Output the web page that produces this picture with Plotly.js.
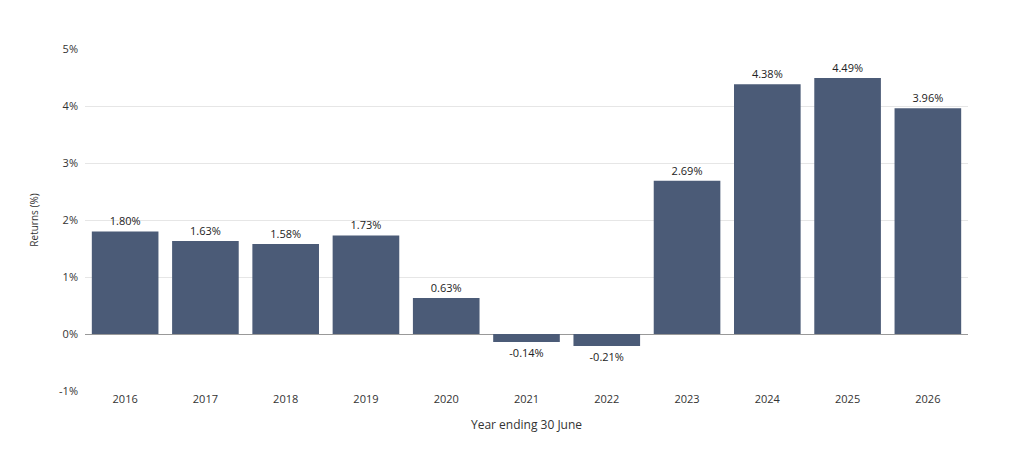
<!DOCTYPE html>
<html>
<head>
<meta charset="utf-8">
<script src="https://cdn.plot.ly/plotly-3.0.1.min.js"></script>
<style>body{margin:0;background:#fff}</style>
</head>
<body>
<div id="grafico" style="width:1013px;height:450px"></div>
<script>
const anios = ['2016', '2017', '2018', '2019', '2020', '2021', '2022', '2023', '2024', '2025', '2026'];
const rendimientos = [1.80, 1.63, 1.58, 1.73, 0.63, -0.14, -0.21, 2.69, 4.38, 4.49, 3.96];
const ticksY = [-1, 0, 1, 2, 3, 4, 5];

const etiquetas = rendimientos.map(v => v.toFixed(2) + '%');

Plotly.newPlot('grafico', [{
  type: 'bar',
  x: anios,
  y: rendimientos,
  marker: { color: '#4b5b77' },
  text: etiquetas,
  textposition: 'outside',
  textfont: { size: 11, color: '#222' },
  cliponaxis: false,
  hoverinfo: 'none'
}], {
  width: 1013,
  height: 450,
  font: { family: 'Open Sans, sans-serif', size: 11, color: '#333' },
  margin: { l: 85, r: 45, t: 49, b: 59 },
  bargap: 0.17,
  showlegend: false,
  plot_bgcolor: '#fff',
  paper_bgcolor: '#fff',
  xaxis: {
    type: 'category',
    title: { text: 'Year ending 30 June', font: { size: 12, color: '#333' }, standoff: 15 },
    ticks: '',
    showline: false
  },
  yaxis: {
    range: [-1, 5],
    tickvals: ticksY,
    ticktext: ticksY.map(t => t + '%'),
    gridcolor: '#e6e6e6',
    zeroline: true,
    zerolinecolor: '#999',
    zerolinewidth: 1,
    title: { text: 'Returns (%)', font: { size: 10, color: '#333' }, standoff: 18 },
    ticklabelstandoff: 6
  }
}, { displayModeBar: false });
</script>
</body>
</html>
